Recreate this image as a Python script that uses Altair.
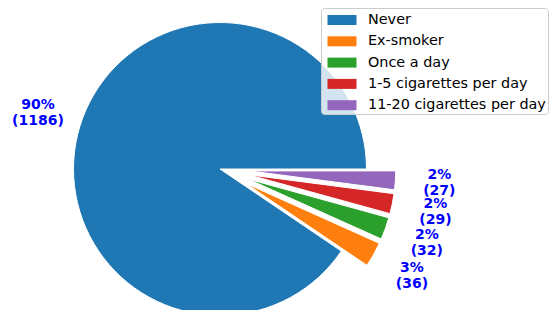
import math
import altair as alt
import pandas as pd

categories = ["Never", "Ex-smoker", "Once a day", "1-5 cigarettes per day", "11-20 cigarettes per day"]
counts = [1186, 36, 32, 29, 27]
pct_labels = ["90%", "3%", "2%", "2%", "2%"]
explode = [0.0, 0.2, 0.2, 0.2, 0.2]
colors = ["#1f77b4", "#ff7f0e", "#2ca02c", "#d62728", "#9467bd"]

W, H = 542, 302
CX, CY, R = 212, 161, 146.5
LABEL_DIST = 1.3
START = math.pi / 2

n = len(categories)
draw_order = list(range(n))[::-1]  # matplotlib counter-clockwise == vega clockwise reversed
total = sum(counts)

mids = [0.0] * n
acc = 0
for i in sorted(range(n), key=lambda k: draw_order[k]):
    a0 = START + 2 * math.pi * acc / total
    acc += counts[i]
    a1 = START + 2 * math.pi * acc / total
    mids[i] = (a0 + a1) / 2

df = pd.DataFrame({
    "category": categories,
    "count": counts,
    "draw_order": draw_order,
    "label": [f"{p}\n({c})" for p, c in zip(pct_labels, counts)],
    "cx": [CX + e * R * math.sin(m) for e, m in zip(explode, mids)],
    "cy": [CY - e * R * math.cos(m) for e, m in zip(explode, mids)],
    "tx": [CX + (e + LABEL_DIST) * R * math.sin(m) for e, m in zip(explode, mids)],
    "ty": [CY - (e + LABEL_DIST) * R * math.cos(m) for e, m in zip(explode, mids)],
})

base = alt.Chart(df)

pie = base.mark_arc(outerRadius=R, stroke="white", strokeWidth=1).encode(
    theta=alt.Theta("count:Q", stack=True,
                    scale=alt.Scale(range=[START, START + 2 * math.pi])),
    order=alt.Order("draw_order:Q"),
    x=alt.X("cx:Q", scale=None),
    y=alt.Y("cy:Q", scale=None),
    color=alt.Color(
        "category:N",
        scale=alt.Scale(domain=categories, range=colors),
        legend=alt.Legend(
            title=None,
            orient="none",
            legendX=313,
            legendY=0,
            symbolType="M-0.55,-0.5H2.35V0.5H-0.55Z",
            symbolSize=400,
            symbolStrokeWidth=0,
            labelFontSize=14.4,
            labelFont="DejaVu Sans",
            labelColor="black",
            labelOffset=25,
            labelLimit=400,
            fillColor="rgba(255,255,255,0.8)",
            strokeColor="#cccccc",
            cornerRadius=3,
            padding=2,
            rowPadding=4.3,
        ),
    ),
)

text = base.mark_text(
    font="DejaVu Sans", fontSize=14, fontWeight="bold", color="#0000ff",
    align="center", baseline="middle", lineBreak="\n", lineHeight=16, dy=-8,
).encode(
    x=alt.X("tx:Q", scale=None),
    y=alt.Y("ty:Q", scale=None),
    text="label:N",
)

chart = alt.layer(pie, text).properties(
    width=W, height=H, padding=0, autosize="none",
).configure_view(stroke=None)

chart.save("out.html", embed_options={"renderer": "svg", "actions": False})
